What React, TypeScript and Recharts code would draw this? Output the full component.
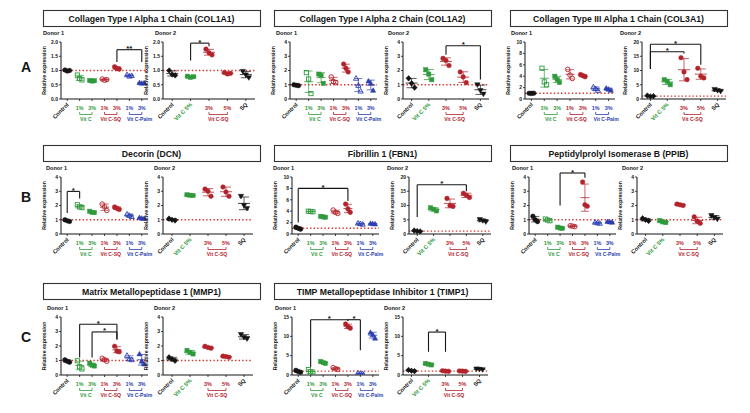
import React from 'react';
import { ScatterChart, Scatter, XAxis, YAxis, ReferenceLine, ReferenceDot, ErrorBar } from 'recharts';

const FONT = '"Liberation Sans", Arial, Helvetica, sans-serif';
const BLACK = '#141414';
const GREEN = '#2f9a3c';
const RED = '#b3232b';
const BLUE = '#2c3fb0';
const DOT_RED = '#d9342b';

// ---------- text ----------
const geneTitles = [
  'Collagen Type I Alpha 1 Chain (COL1A1)',
  'Collagen Type I Alpha 2 Chain (COL1A2)',
  'Collagen Type III Alpha 1 Chain (COL3A1)',
  'Decorin (DCN)',
  'Fibrillin 1 (FBN1)',
  'Peptidylprolyl Isomerase B (PPIB)',
  'Matrix Metallopeptidase 1 (MMP1)',
  'TIMP Metallopeptidase Inhibitor 1 (TIMP1)',
];
const rowLetters = ['A', 'B', 'C'];
const donorLabels = ['Donor 1', 'Donor 2'];
const yAxisLabel = 'Relative expression';

// categories
const donor1Groups = ['Control', 'Vit C 1%', 'Vit C 3%', 'Vit C-SQ 1%', 'Vit C-SQ 3%', 'Vit C-Palm 1%', 'Vit C-Palm 3%'];
const donor2Groups = ['Control', 'Vit C 5%', 'Vit C-SQ 3%', 'Vit C-SQ 5%', 'SQ'];
const donor1TickLabels = ['Control', '1%', '3%', '1%', '3%', '1%', '3%'];
const donor1BracketLabels = ['Vit C', 'Vit C-SQ', 'Vit C-Palm'];
const donor2TickLabels = ['Control', 'Vit C 5%', '3%', '5%', 'SQ'];
const donor2BracketLabels = ['Vit C-SQ'];

// y ticks
const yTicks2 = [0, 0.5, 1, 1.5, 2];
const yTicks4 = [0, 1, 2, 3, 4];
const yTicks10 = [0, 2, 4, 6, 8, 10];
const yTicks15 = [0, 5, 10, 15];
const yTicks20 = [0, 5, 10, 15, 20];

// ---------- data (3 replicates per group) ----------
const col1a1Donor1 = [[1.02, 0.98, 1.0], [0.84, 0.72, 0.67], [0.65, 0.63, 0.64], [0.7, 0.66, 0.68], [1.13, 1.07, 1.05], [0.85, 0.8, 0.82], [0.57, 0.55, 0.56]];
const col1a1Donor2 = [[1.0, 0.86, 0.83], [0.8, 0.76, 0.78], [1.75, 1.62, 1.55], [0.93, 0.88, 0.9], [0.97, 0.85, 0.75]];
const col1a2Donor1 = [[1.0, 0.96, 0.94], [1.85, 1.4, 0.38], [1.75, 1.65, 1.1], [1.55, 1.22, 1.15], [2.45, 2.15, 1.9], [1.45, 0.95, 0.55], [1.25, 1.1, 0.6]];
const col1a2Donor2 = [[1.45, 1.1, 0.8], [2.05, 1.75, 1.35], [2.85, 2.7, 2.35], [1.9, 1.55, 1.15], [1.0, 0.6, 0.35]];
const col3a1Donor1 = [[1.0, 0.98, 1.02], [5.4, 3.0, 2.5], [4.0, 3.4, 2.9], [5.2, 4.2, 3.6], [4.3, 4.1, 3.9], [2.1, 1.8, 1.5], [1.9, 1.7, 1.5]];
const col3a1Donor2 = [[1.2, 0.9, 1.0], [6.8, 6.2, 5.0], [14.5, 9.5, 6.8], [10.8, 8.0, 7.4], [3.4, 3.0, 2.7]];
const dcnDonor1 = [[1.0, 0.93, 0.88], [2.05, 1.9, 1.85], [1.6, 1.52, 1.5], [2.1, 1.9, 1.65], [1.9, 1.8, 1.72], [1.4, 1.3, 1.22], [1.15, 1.1, 1.08]];
const dcnDonor2 = [[1.08, 1.0, 0.95], [2.75, 2.72, 2.7], [3.15, 3.0, 2.65], [3.3, 2.95, 2.65], [2.65, 2.0, 1.8]];
const fbn1Donor1 = [[1.2, 1.0, 0.85], [4.0, 3.95, 3.9], [3.1, 3.0, 2.95], [4.2, 3.8, 3.6], [5.25, 4.4, 3.8], [1.9, 1.8, 1.7], [1.85, 1.8, 1.75]];
const fbn1Donor2 = [[1.2, 1.0, 0.9], [9.2, 8.7, 8.1], [12.5, 10.0, 9.7], [14.3, 13.6, 12.8], [5.1, 4.7, 4.3]];
const ppibDonor1 = [[1.25, 1.0, 0.87], [1.05, 0.98, 0.93], [0.48, 0.42, 0.4], [0.58, 0.55, 0.52], [3.65, 2.05, 1.95], [0.82, 0.78, 0.75], [0.87, 0.84, 0.82]];
const ppibDonor2 = [[1.1, 1.0, 0.92], [0.95, 0.85, 0.8], [2.1, 2.05, 2.0], [1.2, 0.9, 0.75], [1.3, 1.15, 1.05]];
const mmp1Donor1 = [[1.05, 0.95, 0.88], [0.98, 0.57, 0.42], [0.82, 0.68, 0.62], [1.15, 1.05, 0.95], [1.98, 1.65, 1.6], [1.35, 1.1, 1.05], [1.45, 0.95, 0.75]];
const mmp1Donor2 = [[1.22, 1.1, 0.98], [1.7, 1.55, 1.45], [1.98, 1.9, 1.85], [1.3, 1.27, 1.22], [2.8, 2.6, 2.5]];
const timp1Donor1 = [[1.2, 0.9, 0.7], [1.4, 0.8, 0.45], [3.5, 3.2, 3.0], [1.9, 1.6, 1.45], [13.2, 12.5, 12.1], [0.5, 0.4, 0.35], [11.0, 10.4, 9.5]];
const timp1Donor2 = [[1.3, 1.1, 1.0], [3.0, 2.8, 2.6], [1.1, 1.0, 0.95], [1.05, 1.0, 0.95], [1.6, 1.5, 1.4]];

// significance brackets: from group a to group b, bar height, leg ends
type Sig = { a: number; b: number; top: number; la: number; lb: number; label: string };
const col1a1Donor1Sig: Sig[] = [{ a: 4, b: 6, top: 1.73, la: 1.3, lb: 1.3, label: '**' }];
const col1a1Donor2Sig: Sig[] = [{ a: 1, b: 2, top: 1.96, la: 1.35, lb: 1.85, label: '*' }];
const col1a2Donor2Sig: Sig[] = [{ a: 2, b: 4, top: 3.74, la: 3.1, lb: 1.36, label: '*' }];
const col3a1Donor2Sig: Sig[] = [
  { a: 0, b: 3, top: 19.2, la: 10.5, lb: 12, label: '*' },
  { a: 0, b: 2, top: 16.6, la: 10.5, lb: 16, label: '*' },
];
const dcnDonor1Sig: Sig[] = [{ a: 0, b: 1, top: 2.99, la: 1.47, lb: 2.5, label: '*' }];
const fbn1Donor1Sig: Sig[] = [{ a: 0, b: 4, top: 8.0, la: 2.0, lb: 5.8, label: '*' }];
const fbn1Donor2Sig: Sig[] = [{ a: 0, b: 3, top: 17.3, la: 6.0, lb: 15, label: '*' }];
const ppibDonor1Sig: Sig[] = [{ a: 2, b: 4, top: 4.28, la: 2.0, lb: 3.95, label: '*' }];
const mmp1Donor1Sig: Sig[] = [
  { a: 1, b: 4, top: 3.5, la: 1.2, lb: 2.45, label: '*' },
  { a: 2, b: 4, top: 2.97, la: 1.2, lb: 2.45, label: '*' },
];
const timp1Donor1Sig: Sig[] = [
  { a: 1, b: 4, top: 14.3, la: 2.1, lb: 14, label: '*' },
  { a: 4, b: 5, top: 14.3, la: 14, lb: 6.4, label: '*' },
];
const timp1Donor2Sig: Sig[] = [{ a: 1, b: 2, top: 11.1, la: 6.0, lb: 6.0, label: '*' }];

// ---------- styles ----------
type MStyle = { color: string; shape: string; open: boolean };
const donor1Styles: MStyle[] = [
  { color: BLACK, shape: 'circle', open: false },
  { color: GREEN, shape: 'square', open: true },
  { color: GREEN, shape: 'square', open: false },
  { color: RED, shape: 'circle', open: true },
  { color: RED, shape: 'circle', open: false },
  { color: BLUE, shape: 'triangle', open: true },
  { color: BLUE, shape: 'triangle', open: false },
];
const donor2Styles: MStyle[] = [
  { color: BLACK, shape: 'diamond', open: false },
  { color: GREEN, shape: 'square', open: false },
  { color: RED, shape: 'circle', open: false },
  { color: RED, shape: 'circle', open: false },
  { color: BLACK, shape: 'triDown', open: false },
];
const donor1TickColors = [BLACK, GREEN, GREEN, RED, RED, BLUE, BLUE];
const donor1Rotated = [true, false, false, false, false, false, false];
const donor1Pairs = [[1, 2], [3, 4], [5, 6]];
const donor1PairShift = [0, 0, 4];
const donor2TickColors = [BLACK, GREEN, RED, RED, BLACK];
const donor2Rotated = [true, true, false, false, true];
const donor2Pairs = [[2, 3]];
const donor2PairShift = [0];

// ---------- layout ----------
const rowTop = [42, 177, 317];
const rowH = [57, 57, 58];
const titleBoxes = [
  { x: 43, row: 0 }, { x: 274, row: 0 }, { x: 510, row: 0 },
  { x: 43, row: 1 }, { x: 274, row: 1 }, { x: 510, row: 1 },
  { x: 43, row: 2 }, { x: 274, row: 2 },
];
const titleTop = [10, 145, 283];

type Plot = {
  row: number; axisX: number; plotW: number; donor: number; donorX: number;
  data: number[][]; yMax: number; yTicks: number[]; dec: number; sig: Sig[];
};
const plots: Plot[] = [
  { row: 0, axisX: 61, plotW: 87, donor: 0, donorX: 43, data: col1a1Donor1, yMax: 2, yTicks: yTicks2, dec: 1, sig: col1a1Donor1Sig },
  { row: 0, axisX: 163, plotW: 92, donor: 1, donorX: 155, data: col1a1Donor2, yMax: 2, yTicks: yTicks2, dec: 1, sig: col1a1Donor2Sig },
  { row: 0, axisX: 290, plotW: 87, donor: 0, donorX: 276, data: col1a2Donor1, yMax: 4, yTicks: yTicks4, dec: 0, sig: [] },
  { row: 0, axisX: 403, plotW: 86, donor: 1, donorX: 388, data: col1a2Donor2, yMax: 4, yTicks: yTicks4, dec: 0, sig: col1a2Donor2Sig },
  { row: 0, axisX: 525, plotW: 90, donor: 0, donorX: 511, data: col3a1Donor1, yMax: 10, yTicks: yTicks10, dec: 0, sig: [] },
  { row: 0, axisX: 642, plotW: 84, donor: 1, donorX: 620, data: col3a1Donor2, yMax: 20, yTicks: yTicks20, dec: 0, sig: col3a1Donor2Sig },
  { row: 1, axisX: 61, plotW: 87, donor: 0, donorX: 46, data: dcnDonor1, yMax: 4, yTicks: yTicks4, dec: 0, sig: dcnDonor1Sig },
  { row: 1, axisX: 163, plotW: 90, donor: 1, donorX: 154, data: dcnDonor2, yMax: 4, yTicks: yTicks4, dec: 0, sig: [] },
  { row: 1, axisX: 292, plotW: 87, donor: 0, donorX: 273, data: fbn1Donor1, yMax: 10, yTicks: yTicks10, dec: 0, sig: fbn1Donor1Sig },
  { row: 1, axisX: 409, plotW: 82, donor: 1, donorX: 387, data: fbn1Donor2, yMax: 20, yTicks: yTicks20, dec: 0, sig: fbn1Donor2Sig },
  { row: 1, axisX: 529, plotW: 87, donor: 0, donorX: 512, data: ppibDonor1, yMax: 4, yTicks: yTicks4, dec: 0, sig: ppibDonor1Sig },
  { row: 1, axisX: 637, plotW: 86, donor: 1, donorX: 622, data: ppibDonor2, yMax: 4, yTicks: yTicks4, dec: 0, sig: [] },
  { row: 2, axisX: 61, plotW: 87, donor: 0, donorX: 47, data: mmp1Donor1, yMax: 4, yTicks: yTicks4, dec: 0, sig: mmp1Donor1Sig },
  { row: 2, axisX: 163, plotW: 90, donor: 1, donorX: 154, data: mmp1Donor2, yMax: 4, yTicks: yTicks4, dec: 0, sig: [] },
  { row: 2, axisX: 292, plotW: 87, donor: 0, donorX: 275, data: timp1Donor1, yMax: 15, yTicks: yTicks15, dec: 0, sig: timp1Donor1Sig },
  { row: 2, axisX: 403, plotW: 85, donor: 1, donorX: 384, data: timp1Donor2, yMax: 15, yTicks: yTicks15, dec: 0, sig: timp1Donor2Sig },
];

const ML = 26;
const MT = 16;
const MR = 6;
const XH = 36;

function mean(v: number[]) {
  return v.reduce((s, x) => s + x, 0) / v.length;
}
function sd(v: number[]) {
  const m = mean(v);
  return Math.sqrt(v.reduce((s, x) => s + (x - m) * (x - m), 0) / (v.length - 1));
}

function renderMarker(p: any, st: MStyle, jitter: number) {
  if (p.cx == null || p.cy == null) return <g />;
  const cx = p.cx + ((p.payload?.rep ?? 1) - 1) * jitter;
  const cy = p.cy;
  const fill = st.open ? 'none' : st.color;
  const sw = st.open ? 0.9 : 0.5;
  if (st.shape === 'circle') return <circle cx={cx} cy={cy} r={2.3} fill={fill} stroke={st.color} strokeWidth={sw} />;
  if (st.shape === 'square') return <rect x={cx - 2.1} y={cy - 2.1} width={4.2} height={4.2} fill={fill} stroke={st.color} strokeWidth={sw} />;
  if (st.shape === 'triangle')
    return <polygon points={`${cx},${cy - 2.7} ${cx + 2.6},${cy + 1.9} ${cx - 2.6},${cy + 1.9}`} fill={fill} stroke={st.color} strokeWidth={sw} />;
  if (st.shape === 'triDown')
    return <polygon points={`${cx},${cy + 2.7} ${cx + 2.7},${cy - 1.9} ${cx - 2.7},${cy - 1.9}`} fill={fill} stroke={st.color} strokeWidth={sw} />;
  return <polygon points={`${cx},${cy - 2.8} ${cx + 2.6},${cy} ${cx},${cy + 2.8} ${cx - 2.6},${cy}`} fill={fill} stroke={st.color} strokeWidth={sw} />;
}

function renderXTick(p: any, donor: number, step: number) {
  const { x, y, payload } = p;
  const i = Math.round(payload.value);
  const labels = donor === 0 ? donor1TickLabels : donor2TickLabels;
  const colors = donor === 0 ? donor1TickColors : donor2TickColors;
  const rotated = donor === 0 ? donor1Rotated : donor2Rotated;
  const pairs = donor === 0 ? donor1Pairs : donor2Pairs;
  const shifts = donor === 0 ? donor1PairShift : donor2PairShift;
  const names = donor === 0 ? donor1BracketLabels : donor2BracketLabels;
  const pairIdx = pairs.findIndex((pr) => pr[0] === i);
  const color = colors[i];
  const common = { fontFamily: FONT, fontWeight: 700, fontSize: 5.4, fill: color };
  return (
    <g>
      {rotated[i] ? (
        <text x={x + 2} y={y + 4} transform={`rotate(-45 ${x + 2} ${y + 4})`} textAnchor="end" {...common} fontSize={5.7}>
          {labels[i]}
        </text>
      ) : (
        <text x={x} y={y + 9} textAnchor="middle" {...common}>
          {labels[i]}
        </text>
      )}
      {pairIdx >= 0 && (
        <g>
          <path d={`M${x} ${y + 11}V${y + 13.5}H${x + step}V${y + 11}`} stroke={color} strokeWidth={0.8} fill="none" />
          <text x={x + step / 2 + shifts[pairIdx]} y={y + 20} textAnchor="middle" {...common} fontSize={5.1}>
            {names[pairIdx]}
          </text>
        </g>
      )}
    </g>
  );
}

function SubPlot({ cfg }: { cfg: Plot }) {
  const { row, axisX, plotW, donor, data, yMax, yTicks, dec, sig } = cfg;
  const plotH = rowH[row];
  const n = donor === 0 ? donor1Groups.length : donor2Groups.length;
  const styles = donor === 0 ? donor1Styles : donor2Styles;
  const step = plotW / n;
  const jitter = donor === 0 ? 2.3 : 3;
  const halfMean = donor === 0 ? 4.5 : 6;
  const cap = donor === 0 ? 4 : 5;
  const tickVals = Array.from({ length: n }, (_, k) => k);
  return (
    <div style={{ position: 'absolute', left: axisX - ML, top: rowTop[row] - MT }}>
      <ScatterChart width={ML + plotW + MR} height={MT + plotH + XH} margin={{ top: MT, right: MR, bottom: 0, left: 0 }}>
        <XAxis
          type="number"
          dataKey="x"
          domain={[-0.5, n - 0.5]}
          ticks={tickVals}
          interval={0}
          allowDataOverflow
          height={XH}
          tickSize={2}
          tickMargin={0}
          axisLine={{ stroke: BLACK, strokeWidth: 1 }}
          tickLine={{ stroke: BLACK, strokeWidth: 0.8 }}
          tick={(p: any) => renderXTick(p, donor, step)}
        />
        <YAxis
          type="number"
          dataKey="y"
          domain={[0, yMax]}
          ticks={yTicks}
          interval={0}
          allowDataOverflow
          width={ML}
          tickSize={2}
          tickMargin={1}
          axisLine={{ stroke: BLACK, strokeWidth: 1 }}
          tickLine={{ stroke: BLACK, strokeWidth: 0.8 }}
          tick={{ fontSize: 5, fontWeight: 700, fill: BLACK, fontFamily: FONT }}
          tickFormatter={(v: number) => v.toFixed(dec)}
        />
        <ReferenceLine y={1} stroke={DOT_RED} strokeWidth={1.4} strokeDasharray="1.4 2.2" />
        {data.map((vals, gi) => (
          <Scatter
            key={'p' + gi}
            data={vals.map((v, r) => ({ x: gi, y: v, rep: r }))}
            isAnimationActive={false}
            shape={(p: any) => renderMarker(p, styles[gi], jitter)}
          />
        ))}
        {data.map((vals, gi) => (
          <Scatter
            key={'m' + gi}
            data={[{ x: gi, y: mean(vals), err: sd(vals) }]}
            isAnimationActive={false}
            shape={(p: any) =>
              p.cx == null ? <g /> : (
                <line x1={p.cx - halfMean} x2={p.cx + halfMean} y1={p.cy} y2={p.cy} stroke={styles[gi].color} strokeWidth={0.8} />
              )
            }
          >
            <ErrorBar dataKey="err" direction="y" width={cap} stroke={styles[gi].color} strokeWidth={0.7} />
          </Scatter>
        ))}
        {sig.map((s, si) => (
          <ReferenceLine key={'h' + si} segment={[{ x: s.a, y: s.top }, { x: s.b, y: s.top }]} stroke={BLACK} strokeWidth={1.1} ifOverflow="visible" />
        ))}
        {sig.map((s, si) => (
          <ReferenceLine key={'l' + si} segment={[{ x: s.a, y: s.la }, { x: s.a, y: s.top }]} stroke={BLACK} strokeWidth={1.1} ifOverflow="visible" />
        ))}
        {sig.map((s, si) => (
          <ReferenceLine key={'r' + si} segment={[{ x: s.b, y: s.lb }, { x: s.b, y: s.top }]} stroke={BLACK} strokeWidth={1.1} ifOverflow="visible" />
        ))}
        {sig.map((s, si) => (
          <ReferenceDot
            key={'s' + si}
            x={(s.a + s.b) / 2}
            y={s.top}
            r={0}
            ifOverflow="visible"
            shape={(p: any) => (
              <text x={p.cx} y={p.cy + 1.5} textAnchor="middle" fontFamily={FONT} fontWeight={700} fontSize={8} fill={BLACK}>
                {s.label}
              </text>
            )}
          />
        ))}
      </ScatterChart>
    </div>
  );
}

export default function App() {
  return (
    <div style={{ position: 'absolute', left: 0, top: 0, width: 750, height: 413, background: '#fff', overflow: 'hidden' }}>
      {plots.map((cfg, k) => (
        <SubPlot key={k} cfg={cfg} />
      ))}
      <svg width={750} height={413} style={{ position: 'absolute', left: 0, top: 0, pointerEvents: 'none' }}>
        {titleBoxes.map((b, k) => (
          <g key={'t' + k}>
            <rect x={b.x + 0.5} y={titleTop[b.row] + 0.5} width={217} height={16} fill="none" stroke="#333" strokeWidth={1.1} />
            <text x={b.x + 108.5} y={titleTop[b.row] + 11.5} textAnchor="middle" fontFamily={FONT} fontWeight={700} fontSize={8.7} fill={BLACK}>
              {geneTitles[k]}
            </text>
          </g>
        ))}
        {rowLetters.map((L, k) => (
          <text key={'L' + k} x={21} y={[72, 202, 342][k]} fontFamily={FONT} fontWeight={700} fontSize={14} fill={BLACK}>
            {L}
          </text>
        ))}
        {plots.map((cfg, k) => (
          <g key={'d' + k}>
            <text x={cfg.donorX} y={rowTop[cfg.row] - 7} fontFamily={FONT} fontWeight={700} fontSize={5.6} fill={BLACK}>
              {donorLabels[cfg.donor]}
            </text>
            <text
              transform={`translate(${cfg.axisX - 15},${rowTop[cfg.row] + rowH[cfg.row] / 2}) rotate(-90)`}
              textAnchor="middle"
              fontFamily={FONT}
              fontWeight={700}
              fontSize={5.2}
              fill={BLACK}
            >
              {yAxisLabel}
            </text>
          </g>
        ))}
      </svg>
    </div>
  );
}
